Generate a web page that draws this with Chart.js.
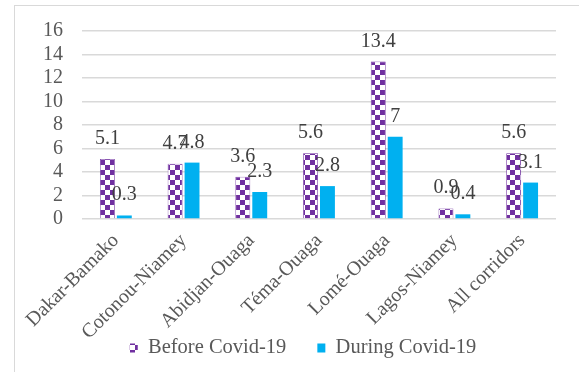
<!DOCTYPE html>
<html>
<head>
<meta charset="utf-8">
<script src="https://cdn.jsdelivr.net/npm/chart.js@4/dist/chart.umd.min.js"></script>
<style>
    body { margin: 0; background: #fff; }
    #wrap { position: relative; width: 579px; height: 372px; overflow: hidden; }
    #frame { position: absolute; left: 14px; top: 5px; width: 640px; height: 420px; border-top: 1px solid #d9d9d9; border-left: 1px solid #d9d9d9; }
    #chart { position: absolute; left: 0; top: 0; }
</style>
</head>
<body>
<div id="wrap">
    <div id="frame"></div>
    <canvas id="chart" width="579" height="372"></canvas>
</div>
<script>
const corridors = ['Dakar-Bamako', 'Cotonou-Niamey', 'Abidjan-Ouaga', 'Téma-Ouaga', 'Lomé-Ouaga', 'Lagos-Niamey', 'All corridors'];
const beforeCovid = [5.1, 4.7, 3.6, 5.6, 13.4, 0.9, 5.6];
const duringCovid = [0.3, 4.8, 2.3, 2.8, 7, 0.4, 3.1];
const yTicks = [0, 2, 4, 6, 8, 10, 12, 14, 16];

const purple = '#7030a0';
const cyan = '#00b0f0';
const textGray = '#595959';
const serif = "'Liberation Serif', 'DejaVu Serif', serif";

// checkerboard fill for the "before" bars
function makeChecker(color, cell) {
    const c = document.createElement('canvas');
    c.width = cell * 2;
    c.height = cell * 2;
    const g = c.getContext('2d');
    g.fillStyle = '#ffffff';
    g.fillRect(0, 0, c.width, c.height);
    g.fillStyle = color;
    g.fillRect(0, 0, cell, cell);
    g.fillRect(cell, cell, cell, cell);
    return g.createPattern(c, 'repeat');
}

const ctx = document.getElementById('chart').getContext('2d');
const checker = makeChecker(purple, 5);

// values written above every bar
const barValues = {
    id: 'barValues',
    afterDatasetsDraw(chart) {
        const g = chart.ctx;
        g.save();
        g.font = '20px ' + serif;
        g.fillStyle = '#404040';
        g.textAlign = 'center';
        g.textBaseline = 'alphabetic';
        chart.data.datasets.forEach((ds, i) => {
            chart.getDatasetMeta(i).data.forEach((bar, j) => {
                g.fillText(String(ds.data[j]), bar.x, bar.y - 15);
            });
        });
        g.restore();
    }
};

// legend row under the axis labels, wider spacing than the built-in one
const bottomLegend = {
    id: 'bottomLegend',
    afterDraw(chart) {
        const g = chart.ctx;
        const fontSize = 20.5;
        const boxW = 8, boxH = 9, gap = 31;
        const centerX = 303, midY = 348;
        g.save();
        g.font = fontSize + 'px ' + serif;
        g.textBaseline = 'middle';
        g.textAlign = 'left';
        const items = chart.data.datasets.map(ds => ({
            text: ds.label,
            fill: ds.backgroundColor,
            width: boxW + fontSize / 2 + g.measureText(ds.label).width
        }));
        const total = items.reduce((a, it) => a + it.width, 0) + gap * (items.length - 1);
        let x = centerX - total / 2;
        items.forEach(it => {
            g.fillStyle = it.fill;
            g.fillRect(x, midY - boxH / 2, boxW, boxH);
            g.fillStyle = textGray;
            g.fillText(it.text, x + boxW + fontSize / 2, midY);
            x += it.width + gap;
        });
        g.restore();
    }
};

new Chart(ctx, {
    type: 'bar',
    data: {
        labels: corridors,
        datasets: [{
            label: 'Before Covid-19',
            data: beforeCovid,
            backgroundColor: checker,
            borderColor: purple,
            borderWidth: 0.75
        }, {
            label: 'During Covid-19',
            data: duringCovid,
            backgroundColor: cyan
        }]
    },
    options: {
        responsive: false,
        animation: false,
        categoryPercentage: 0.5,
        barPercentage: 0.88,
        layout: {
            padding: { left: 0, right: 23, top: 31, bottom: 0 }
        },
        plugins: {
            tooltip: { enabled: false },
            legend: { display: false }
        },
        scales: {
            x: {
                grid: { display: false },
                border: { display: false },
                ticks: {
                    color: textGray,
                    font: { family: serif, size: 20 },
                    minRotation: 45,
                    maxRotation: 45,
                    autoSkip: false,
                    padding: 2
                },
                afterFit: scale => { scale.height = 153; }
            },
            y: {
                min: 0,
                max: 16,
                grid: { color: '#d9d9d9', lineWidth: 1.5, drawTicks: false },
                border: { display: false },
                afterBuildTicks: scale => { scale.ticks = yTicks.map(v => ({ value: v })); },
                ticks: {
                    color: textGray,
                    font: { family: serif, size: 20 },
                    autoSkip: false,
                    padding: 19
                },
                afterFit: scale => { scale.width = 82; }
            }
        }
    },
    plugins: [barValues, bottomLegend]
});
</script>
</body>
</html>
